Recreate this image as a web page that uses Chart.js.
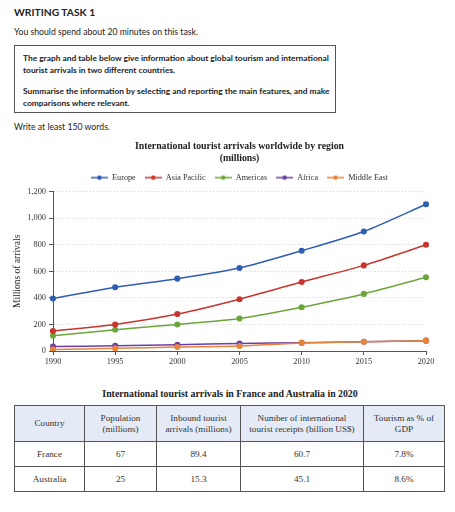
<!DOCTYPE html>
<html>
<head>
<meta charset="utf-8">
<script src="https://cdn.jsdelivr.net/npm/chart.js@4"></script>
<style>
  body { margin: 0; background: #fff; width: 455px; height: 512px; position: relative; overflow: hidden; }
  .sans { font-family: Lato, "Noto Sans", sans-serif; color: #222; position: absolute; white-space: nowrap; }
  #task { left: 14px; top: 6px; font-size: 10.3px; font-weight: bold; }
  #spend { left: 14px; top: 26px; font-size: 8.7px; }
  #box { left: 14px; top: 45px; width: 320px; height: 66px; border: 1px solid #555; }
  #box p { margin: 0; position: absolute; left: 8px; font-size: 8.4px; font-weight: bold; line-height: 12px; }
  #words { left: 14px; top: 121px; font-size: 8.7px; }
  #chartBox { position: absolute; left: 0; top: 135px; width: 445px; height: 237px; }
  #ttitle { position: absolute; left: 0; width: 460px; top: 388px; text-align: center; font-family: "Liberation Serif", serif; font-weight: bold; font-size: 9.8px; color: #222; }
  table { position: absolute; left: 14px; top: 405px; border-collapse: collapse; font-family: "Liberation Serif", serif; font-size: 9.2px; color: #333; }
  td, th { border: 1px solid #555; text-align: center; padding: 0; }
  th { background: #e4ebf7; font-weight: normal; height: 35px; line-height: 11px; }
  td { height: 24px; }
</style>
</head>
<body>
<div class="sans" id="task">WRITING TASK 1</div>
<div class="sans" id="spend">You should spend about 20 minutes on this task.</div>
<div class="sans" id="box">
  <p style="top:6px">The graph and table below give information about global tourism and international<br>tourist arrivals in two different countries.</p>
  <p style="top:39px">Summarise the information by selecting and reporting the main features, and make<br>comparisons where relevant.</p>
</div>
<div class="sans" id="words">Write at least 150 words.</div>

<div id="chartBox"><canvas id="line"></canvas></div>

<div id="ttitle">International tourist arrivals in France and Australia in 2020</div>
<table id="tbl"></table>

<script>
// line chart data
const years = ["1990", "1995", "2000", "2005", "2010", "2015", "2020"];
const europe = [395, 480, 545, 625, 755, 900, 1105];
const asiaPacific = [150, 200, 278, 390, 520, 645, 800];
const americas = [115, 160, 200, 245, 330, 430, 555];
const africa = [33, 40, 47, 57, 62, 70, 78];
const middleEast = [12, 20, 30, 38, 61, 70, 78];
const yTicks = [0, 200, 400, 600, 800, 1000, 1200];

// table data
const tableHead = ["Country", "Population<br>(millions)", "Inbound tourist<br>arrivals (millions)", "Number of international<br>tourist receipts (billion US$)", "Tourism as % of<br>GDP"];
const countries = ["France", "Australia"];
const population = ["67", "25"];
const inbound = ["89.4", "15.3"];
const receipts = ["60.7", "45.1"];
const gdpShare = ["7.8%", "8.6%"];

const colWidths = [69, 71, 83, 122, 80];
let html = "<tr>" + tableHead.map((h, i) => `<th style="width:${colWidths[i]}px">${h}</th>`).join("") + "</tr>";
countries.forEach((c, i) => {
  html += `<tr><td>${c}</td><td>${population[i]}</td><td>${inbound[i]}</td><td>${receipts[i]}</td><td>${gdpShare[i]}</td></tr>`;
});
document.getElementById("tbl").innerHTML = html;

const serif = "'Liberation Serif', serif";

// small line+dot icons for the legend
function icon(color) {
  const c = document.createElement("canvas");
  c.width = 17; c.height = 6;
  const g = c.getContext("2d");
  g.strokeStyle = color; g.lineWidth = 1.5;
  g.beginPath(); g.moveTo(0, 3); g.lineTo(17, 3); g.stroke();
  g.fillStyle = color;
  g.beginPath(); g.arc(8.5, 3, 2.3, 0, Math.PI * 2); g.fill();
  return c;
}

function series(label, data, color, order) {
  return {
    label: label, data: data, borderColor: color, backgroundColor: color,
    pointBackgroundColor: color, pointBorderColor: color,
    pointRadius: 2.3, borderWidth: 1.5, tension: 0.25, order: order,
  };
}

const colors = ["#2f5db3", "#c8342e", "#6ca539", "#6d3fa3", "#e8843a"];

new Chart(document.getElementById("line"), {
  type: "line",
  data: {
    labels: years,
    datasets: [
      series("Europe", europe, colors[0], 2),
      series("Asia Pacific", asiaPacific, colors[1], 3),
      series("Americas", americas, colors[2], 4),
      series("Africa", africa, colors[3], 5),
      series("Middle East", middleEast, colors[4], 1),
    ],
  },
  options: {
    responsive: true,
    maintainAspectRatio: false,
    animation: false,
    layout: { padding: { left: 12, right: 19, top: 0, bottom: 0 } },
    plugins: {
      title: {
        display: true,
        fullSize: false,
        text: ["International tourist arrivals worldwide by region", "(millions)"],
        color: "#222",
        font: { family: serif, size: 9.8, weight: "bold", lineHeight: 1.25 },
        padding: { top: 5, bottom: 0 },
      },
      legend: {
        fullSize: false,
        labels: {
          usePointStyle: true,
          pointStyleWidth: 17,
          padding: 9,
          color: "#333",
          font: { family: serif, size: 8.2 },
          generateLabels(chart) {
            const items = Chart.defaults.plugins.legend.labels.generateLabels(chart);
            items.sort((a, b) => a.datasetIndex - b.datasetIndex);
            items.forEach((it) => { it.pointStyle = icon(colors[it.datasetIndex]); });
            return items;
          },
        },
      },
      tooltip: { enabled: false },
    },
    scales: {
      x: {
        offset: false,
        grid: { drawOnChartArea: false, drawTicks: true, tickLength: 4, tickColor: "#555" },
        border: { color: "#555", width: 1 },
        ticks: { color: "#333", font: { family: serif, size: 8.3 }, padding: 2, maxRotation: 0 },
        afterFit(scale) { scale.height = 21; },
      },
      y: {
        min: 0, max: 1200,
        afterBuildTicks(scale) { scale.ticks = yTicks.map((v) => ({ value: v })); },
        grid: { color: "#d4d4d4", tickLength: 4, tickColor: "#555", tickBorderDash: [] },
        border: { color: "#555", width: 1, dash: [1, 2] },
        ticks: { color: "#333", font: { family: serif, size: 8.3 }, padding: 3 },
        title: { display: true, text: "Millions of arrivals", color: "#222", font: { family: serif, size: 9.5 }, padding: 0 },
        afterFit(scale) { scale.width = 41; },
      },
    },
  },
});
</script>
</body>
</html>
